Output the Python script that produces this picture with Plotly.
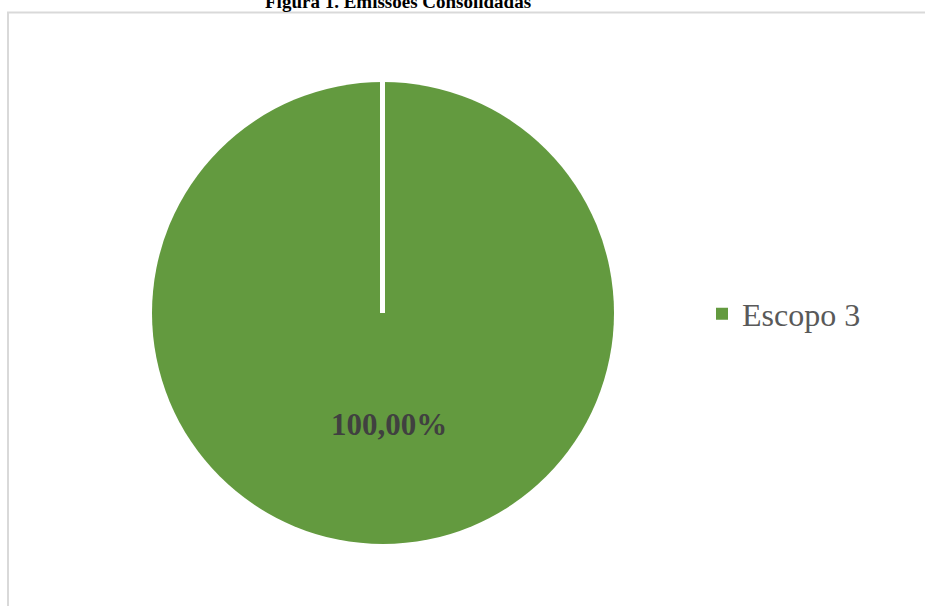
import plotly.graph_objects as go

W, H = 925, 606

categories = ["Escopo 3"]
values = [100.0]
colors = ["#639A3F"]
title_text = "Figura 1. Emissões Consolidadas"

def px(x):
    return x / W

def py(y):
    return 1 - y / H

cx, cy, r = 383, 313, 231

fig = go.Figure()
fig.add_trace(go.Pie(
    labels=categories,
    values=values,
    marker=dict(colors=colors, line=dict(color="white", width=0)),
    textinfo="none",
    sort=False,
    direction="clockwise",
    rotation=0,
    domain=dict(x=[px(cx - r), px(cx + r)], y=[py(cy + r), py(cy - r)]),
    hoverinfo="label+percent",
    showlegend=True,
))

total = sum(values)
pct_text = f"{values[0] / total * 100:.2f}%".replace(".", ",")

annotations = [
    dict(text="<b>" + title_text + "</b>", x=px(398), y=py(14), xref="paper", yref="paper",
         xanchor="center", yanchor="bottom", showarrow=False,
         font=dict(family="Liberation Serif", size=19, color="#000000")),
    dict(text="<b>" + pct_text + "</b>", x=px(389), y=py(424), xref="paper", yref="paper",
         xanchor="center", yanchor="middle", showarrow=False,
         font=dict(family="Liberation Serif", size=31, color="#404040")),
]

shapes = [
    # chart frame
    dict(type="rect", xref="paper", yref="paper", x0=px(8), x1=1.02, y0=-0.02, y1=py(12.5),
         line=dict(color="#D9D9D9", width=2), layer="above"),
    # slice boundary line from centre to top
    dict(type="line", xref="paper", yref="paper", x0=px(cx - 0.5), x1=px(cx - 0.5),
         y0=py(cy), y1=py(cy - r - 2), line=dict(color="white", width=5)),
]

fig.update_layout(
    width=W, height=H,
    margin=dict(l=0, r=0, t=0, b=0),
    paper_bgcolor="white",
    plot_bgcolor="white",
    annotations=annotations,
    shapes=shapes,
    legend=dict(x=px(702), y=py(314), xanchor="left", yanchor="middle",
                font=dict(family="Liberation Serif", size=32, color="#595959"),
                bgcolor="rgba(0,0,0,0)"),
)

fig.write_html("out.html", config={"displayModeBar": False},
               post_script="document.body.style.margin='0';document.body.style.overflow='hidden';")
